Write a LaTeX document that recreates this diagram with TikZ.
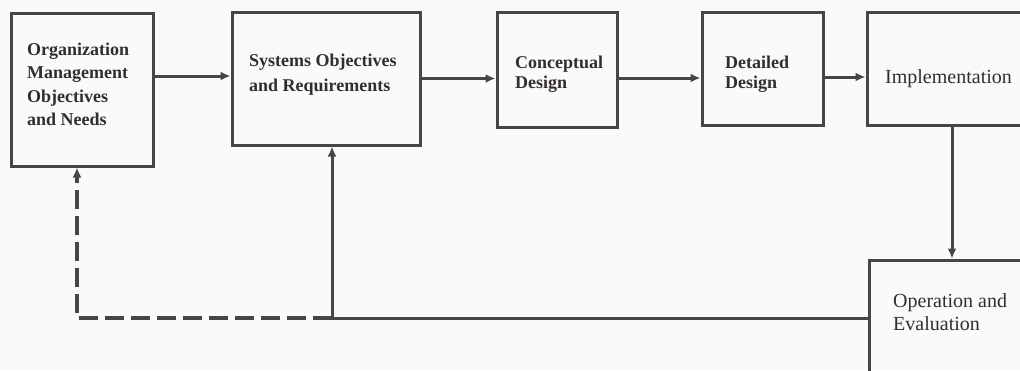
\documentclass[tikz,border=0pt]{standalone}
\usepackage{fontspec}
\setmainfont{Liberation Serif}
\usetikzlibrary{arrows.meta}
\definecolor{ink}{HTML}{4A4545}
\definecolor{txt}{HTML}{332E2E}
\definecolor{paper}{HTML}{FAFAF8}
\tikzset{
  box/.style={draw=ink, line width=3pt, rectangle, inner sep=0pt},
  caption/.style={anchor=west, inner sep=0pt, text=txt, align=left},
  heavy/.style={caption, font=\fontsize{18}{#1}\selectfont\bfseries},
  light/.style={caption, font=\fontsize{20}{#1}\selectfont},
  flow/.style={draw=ink, line width=3pt, -{Latex[length=10pt,width=9pt]}},
  feedback/.style={flow, line width=3.4pt, dash pattern=on 19pt off 7pt}
}
\begin{document}
\begin{tikzpicture}[x=1pt, y=-1pt]
  \path[fill=paper, use as bounding box] (0,0) rectangle (1020,370);
  \clip (0,0) rectangle (1020,370);

  % stages of the development cycle
  \node[box, minimum width=142pt, minimum height=153pt] (org) at (82,89.5) {};
  \node[box, minimum width=188pt, minimum height=133pt] (sys) at (326,78.5) {};
  \node[box, minimum width=120pt, minimum height=115pt] (con) at (557,69.5) {};
  \node[box, minimum width=121pt, minimum height=113pt] (det) at (762.5,68.5) {};
  \node[box, minimum width=170pt, minimum height=113pt] (imp) at (952,68.5) {};
  \node[box, minimum width=166pt, minimum height=116pt] (op) at (952,318) {};

  % their captions
  \node[heavy=23.5] (orgt) at (27,84.5) {Organization\\Management\\Objectives\\and Needs};
  \node[heavy=25] (syst) at (249,75) {Systems Objectives\\and Requirements};
  \node[heavy=20.5] (cont) at (515,74) {Conceptual\\Design};
  \node[heavy=20.5] (dett) at (725,74) {Detailed\\Design};
  \node[light=23] (impt) at (885,79) {Implementation};
  \node[light=23] (opt) at (893,312) {Operation and\\Evaluation};

  % forward flow
  \path ([yshift=13.5pt]org.east) coordinate (o1);
  \draw[flow] (o1) -- (o1 -| sys.west);
  \draw[flow] (sys.east) -- (sys.east -| con.west);
  \path ([yshift=-8.5pt]con.east) coordinate (c1);
  \draw[flow] (c1) -- (c1 -| det.west);
  \path ([yshift=-8.5pt]det.east) coordinate (d1);
  \draw[flow] (d1) -- (d1 -| imp.west);
  \draw[flow] (imp.south) -- (op.north);

  % feedback paths
  \draw[flow] (op.west) -| coordinate[pos=0.5] (jn) ([xshift=6pt]sys.south);
  \draw[feedback] (jn) -| ([xshift=-5pt]org.south);
\end{tikzpicture}
\end{document}
